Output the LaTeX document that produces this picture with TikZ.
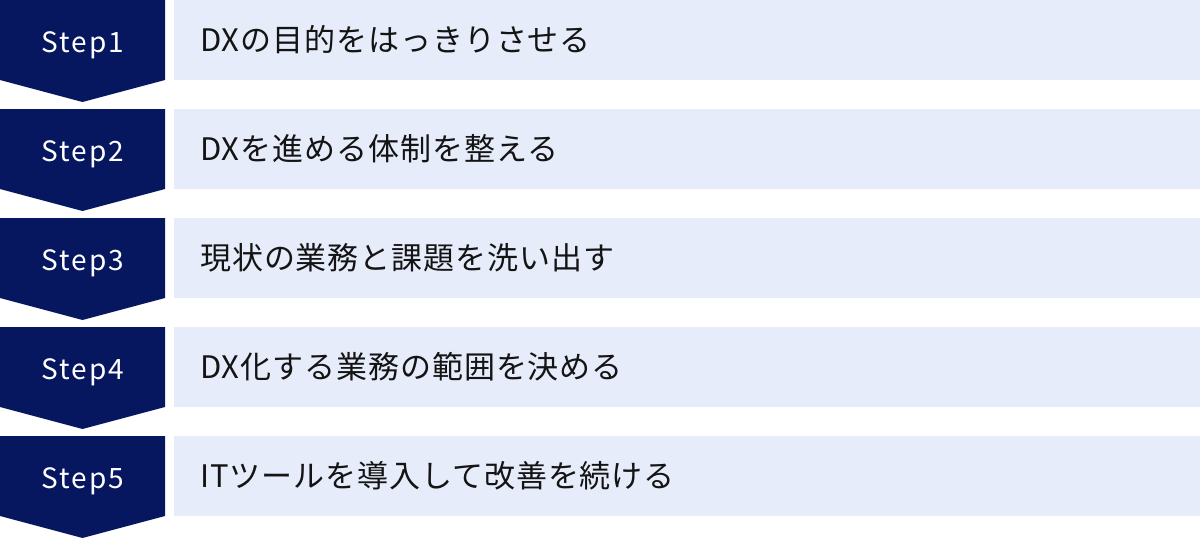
\documentclass[tikz,border=0pt]{standalone}
\usepackage{fontspec}
\newfontfamily\jp[LetterSpace=3]{Noto Sans CJK JP}
\newfontfamily\stepfont[LetterSpace=7]{Noto Sans CJK JP}
\definecolor{navy}{RGB}{6,23,96}
\definecolor{pale}{RGB}{230,236,250}
\definecolor{ink}{RGB}{20,20,20}
\tikzset{
  chevron/.style={fill=navy},
  band/.style={fill=pale},
  steplabel/.style={text=white,font=\stepfont\fontsize{28}{32}\selectfont,inner sep=0pt,anchor=base},
  itemlabel/.style={text=ink,font=\jp\fontsize{31}{35}\selectfont,inner sep=0pt,anchor=base west}
}
\begin{document}
\begin{tikzpicture}[x=1pt,y=-1pt]
\useasboundingbox (0,0) rectangle (1200,538);
\foreach \i/\t in {1/DXの目的をはっきりさせる,2/DXを進める体制を整える,3/現状の業務と課題を洗い出す,4/DX化する業務の範囲を決める,5/ITツールを導入して改善を続ける}{
  \pgfmathsetmacro{\y}{(\i-1)*109}
  \fill[chevron] (0,\y) -- (165,\y) -- (165,\y+80) -- (82.5,\y+102) -- (0,\y+80) -- cycle;
  \fill[band] (174,\y) rectangle (1200,\y+80);
  \node[steplabel] (s\i) at (83,\y+52) {Step\i};
  \node[itemlabel] (t\i) at (200,\y+51) {\t};
}
\end{tikzpicture}
\end{document}
